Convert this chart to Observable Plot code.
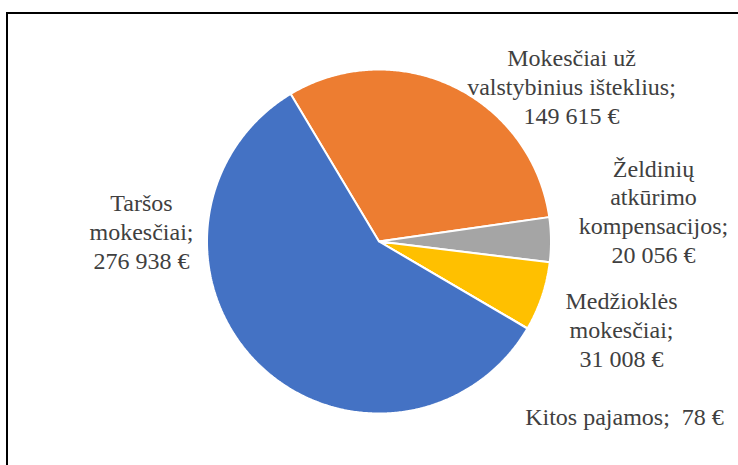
<!DOCTYPE html>
<html>
<head>
<meta charset="utf-8">
<script src="https://cdn.jsdelivr.net/npm/d3@7"></script>
<script src="https://cdn.jsdelivr.net/npm/@observablehq/plot@0.6"></script>
<style>
  html, body { margin: 0; padding: 0; background: #fff; }
  #wrap { position: relative; width: 738px; height: 465px; overflow: hidden; }
  #frame { position: absolute; left: 6px; top: 11.5px; width: 800px; height: 600px;
           border-top: 2.5px solid #000; border-left: 2.5px solid #000; }
  #chart { position: absolute; left: 0; top: 0; }
</style>
</head>
<body>
<div id="wrap"><div id="frame"></div><div id="chart"></div></div>
<script>
// ---- data ----
const categories = [
  "Mokesčiai už valstybinius išteklius",
  "Želdinių atkūrimo kompensacijos",
  "Medžioklės mokesčiai",
  "Kitos pajamos",
  "Taršos mokesčiai"
];
const labelLines = [
  ["Mokesčiai už", "valstybinius išteklius;"],
  ["Želdinių", "atkūrimo", "kompensacijos;"],
  ["Medžioklės", "mokesčiai;"],
  ["Kitos pajamos;"],
  ["Taršos", "mokesčiai;"]
];
const values = [149615, 20056, 31008, 78, 276938];
const colors = ["#ED7D31", "#A5A5A5", "#FFC000", "#5B9BD5", "#4472C4"];

// ---- layout ----
const W = 738, H = 465;
const cx = 378.5, cy = 241, r = 172;
const startDeg = -30.9;
const labelPos = [[571, 85], [653, 210], [621, 328], [624, 415], [141, 230]];

const fmt = d3.formatLocale({decimal: ",", thousands: "\u00a0", grouping: [3], currency: ["", ""]}).format(",d");

const pie = d3.pie().sort(null)
  .startAngle(startDeg * Math.PI / 180)
  .endAngle((startDeg + 360) * Math.PI / 180)(values);

function slicePoints(a) {
  const pts = [[cx, cy]];
  const n = Math.max(2, Math.ceil((a.endAngle - a.startAngle) / (Math.PI / 360)));
  for (let i = 0; i <= n; i++) {
    const t = a.startAngle + (a.endAngle - a.startAngle) * i / n;
    pts.push([cx + r * Math.sin(t), cy - r * Math.cos(t)]);
  }
  pts.push([cx, cy]);
  return pts;
}

const sliceMarks = pie.map((a, i) =>
  Plot.line(slicePoints(a), {
    x: d => d[0], y: d => d[1],
    fill: colors[i], stroke: "#fff", strokeWidth: 2, strokeLinejoin: "miter", curve: "linear"
  })
);

const labels = categories.map((c, i) => ({
  x: labelPos[i][0], y: labelPos[i][1],
  text: i === 3
    ? labelLines[i][0] + " \u00a0" + fmt(values[i]) + " €"
    : labelLines[i].join("\n") + "\n" + fmt(values[i]) + " €"
}));

const chart = Plot.plot({
  width: W, height: H,
  margin: 0,
  x: {domain: [0, W], range: [0, W], axis: null},
  y: {domain: [0, H], range: [0, H], axis: null},
  marks: [
    ...sliceMarks,
    Plot.text(labels, {
      x: "x", y: "y", text: "text",
      fontFamily: "Liberation Serif", fontSize: 24, lineHeight: 1.2,
      fill: "#404040", textAnchor: "middle", lineAnchor: "middle"
    })
  ]
});
d3.select(chart).style("background", "transparent");
document.getElementById("chart").appendChild(chart);
</script>
</body>
</html>
